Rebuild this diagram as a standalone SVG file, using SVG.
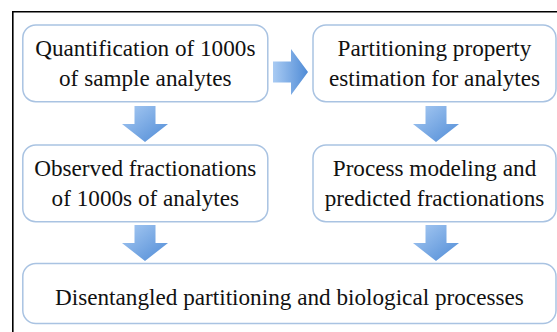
<svg xmlns="http://www.w3.org/2000/svg" width="557" height="332" viewBox="0 0 557 332">
  <defs>
    <linearGradient id="arrowFillV" x1="0" y1="0" x2="1" y2="1">
      <stop offset="0" stop-color="#a9cbf3"/>
      <stop offset="1" stop-color="#4f8bd6"/>
    </linearGradient>
    <linearGradient id="arrowFillH" x1="0" y1="0" x2="1" y2="0">
      <stop offset="0" stop-color="#a9cbf3"/>
      <stop offset="1" stop-color="#4f8bd6"/>
    </linearGradient>
    <path id="arrowDown" d="M-10.5 0 H10.5 V18 H23 L0 36 L-23 18 H-10.5 Z"/>
  </defs>
  <style>
    .frame { fill: none; stroke: #000; stroke-width: 1.6; }
    .box { fill: #fff; stroke: #a9c3e2; stroke-width: 1.5; }
    .label { font-family: "Liberation Serif", "Times New Roman", serif; font-size: 23.2px; fill: #111; text-anchor: middle; }
    .down { fill: url(#arrowFillV); }
    .right { fill: url(#arrowFillH); }
  </style>

  <rect width="557" height="332" fill="#fff"/>
  <path class="frame" d="M12.8 332 V11.8 H557"/>

  <g id="connectors">
    <path class="right" d="M273 61.5 H291 V49 L308 72 L291 95 V82.5 H273 Z"/>
    <use class="down" href="#arrowDown" x="145" y="106"/>
    <use class="down" href="#arrowDown" x="436" y="106"/>
    <use class="down" href="#arrowDown" x="145" y="225"/>
    <use class="down" href="#arrowDown" x="436" y="225"/>
  </g>

  <g id="quantification">
    <rect class="box" x="22.8" y="25" width="245" height="76.7" rx="13"/>
    <text class="label" x="145.3" y="55.6">Quantification of 1000s</text>
    <text class="label" x="145.3" y="86.4">of sample analytes</text>
  </g>

  <g id="partitioning-estimation">
    <rect class="box" x="313" y="25" width="243" height="76.7" rx="13"/>
    <text class="label" x="434.5" y="55.6">Partitioning property</text>
    <text class="label" x="434.5" y="86.4">estimation for analytes</text>
  </g>

  <g id="observed-fractionations">
    <rect class="box" x="22.8" y="145" width="245" height="76.7" rx="13"/>
    <text class="label" x="145.3" y="175.6">Observed fractionations</text>
    <text class="label" x="145.3" y="206.4">of 1000s of analytes</text>
  </g>

  <g id="process-modeling">
    <rect class="box" x="313" y="145" width="243" height="76.7" rx="13"/>
    <text class="label" x="434.5" y="175.6">Process modeling and</text>
    <text class="label" x="434.5" y="206.4">predicted fractionations</text>
  </g>

  <g id="disentangled">
    <rect class="box" x="22.8" y="263.5" width="533.2" height="60" rx="13"/>
    <text class="label" x="289.4" y="304.5">Disentangled partitioning and biological processes</text>
  </g>
</svg>
